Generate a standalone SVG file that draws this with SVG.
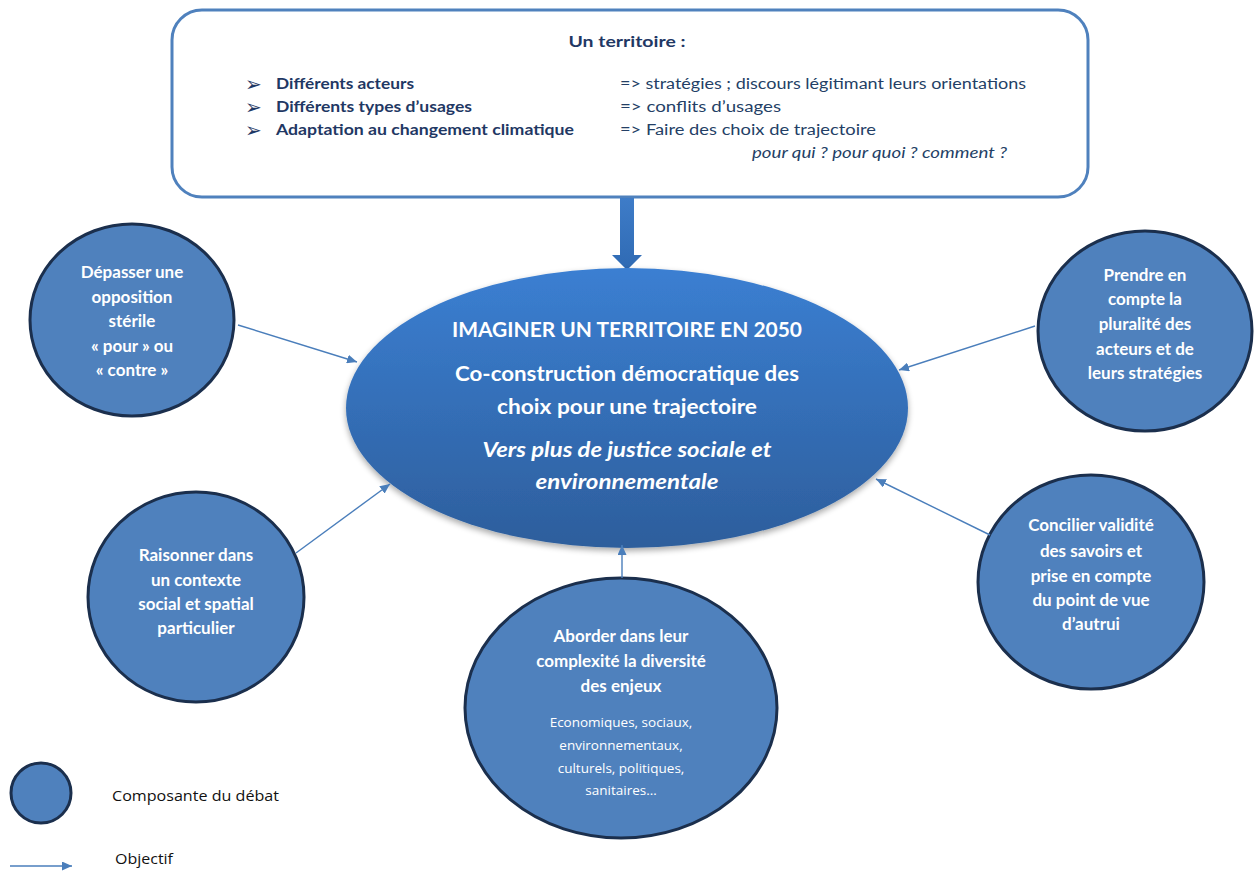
<svg xmlns="http://www.w3.org/2000/svg" width="1256" height="872" viewBox="0 0 1256 872">
<style>
.node{fill:#4f81bd;stroke:#1b2f4d;stroke-width:3}
.conn{stroke:#4a7ebb;stroke-width:1.4;fill:none}
.ct{font-family:Lato,"Liberation Sans",sans-serif;font-weight:bold;font-size:17px;fill:#ffffff;text-anchor:middle}
.cs{font-family:"Open Sans","Liberation Sans",sans-serif;font-size:13.5px;fill:#ffffff;text-anchor:middle}
.bt{font-family:Lato,"Liberation Sans",sans-serif;font-weight:bold;font-size:15.5px;fill:#1f3864}
.rt{font-family:Lato,"Liberation Sans",sans-serif;font-size:15.5px;fill:#243f66}
.mt{font-family:Lato,"Liberation Sans",sans-serif;font-weight:bold;font-size:20px;fill:#ffffff;text-anchor:middle}
.lg{font-family:"Open Sans","Liberation Sans",sans-serif;font-size:14.5px;fill:#111111}
.bu{font-family:"DejaVu Sans",sans-serif;font-size:20px;fill:#1f3864}
</style>
<defs>
<marker id="ah" markerWidth="11" markerHeight="9" refX="10" refY="4.5" orient="auto" markerUnits="userSpaceOnUse">
<path d="M0,0 L10,4.5 L0,9 Z" fill="#4a7ebb"/>
</marker>
<linearGradient id="eg" x1="0" y1="0" x2="0" y2="1">
<stop offset="0" stop-color="#3b7fd2"/>
<stop offset="1" stop-color="#2d5e9c"/>
</linearGradient>
<linearGradient id="ag" x1="0" y1="0" x2="0" y2="1">
<stop offset="0" stop-color="#3e7cc8"/>
<stop offset="1" stop-color="#2f6ab3"/>
</linearGradient>
<filter id="sh" x="-10%" y="-10%" width="120%" height="130%">
<feGaussianBlur in="SourceAlpha" stdDeviation="3"/>
<feOffset dx="0" dy="3" result="b"/>
<feComponentTransfer><feFuncA type="linear" slope="0.35"/></feComponentTransfer>
<feMerge><feMergeNode/><feMergeNode in="SourceGraphic"/></feMerge>
</filter>
</defs>
<rect width="1256" height="872" fill="#ffffff"/>

<g id="territoire">
<rect x="172" y="10" width="916" height="187" rx="30" ry="30" fill="#ffffff" stroke="#4f81bd" stroke-width="3"/>
<text class="bt" x="627" y="47" text-anchor="middle" textLength="117" lengthAdjust="spacingAndGlyphs">Un territoire :</text>
<text class="bu" x="245" y="91">➢</text>
<text class="bu" x="245" y="114">➢</text>
<text class="bu" x="245" y="137">➢</text>
<text class="bt" x="276" y="89" textLength="138" lengthAdjust="spacingAndGlyphs">Différents acteurs</text>
<text class="bt" x="276" y="112" textLength="196" lengthAdjust="spacingAndGlyphs">Différents types d’usages</text>
<text class="bt" x="276" y="135" textLength="298" lengthAdjust="spacingAndGlyphs">Adaptation au changement climatique</text>
<text class="rt" x="620" y="89" textLength="406" lengthAdjust="spacingAndGlyphs">=&gt; stratégies ; discours légitimant leurs orientations</text>
<text class="rt" x="620" y="112" textLength="161" lengthAdjust="spacingAndGlyphs">=&gt; conflits d’usages</text>
<text class="rt" x="620" y="135" textLength="256" lengthAdjust="spacingAndGlyphs">=&gt; Faire des choix de trajectoire</text>
<text class="rt" x="752" y="158" font-style="italic" fill="#2e4f8a" textLength="255" lengthAdjust="spacingAndGlyphs">pour qui ? pour quoi ? comment ?</text>
</g>

<g id="block-arrow">
<path d="M620,198 L634,198 L634,255 L642,255 L627,270 L612,255 L620,255 Z" fill="url(#ag)"/>
</g>

<g id="centre">
<ellipse cx="627" cy="408" rx="281" ry="140" fill="url(#eg)" filter="url(#sh)"/>
<text class="mt" x="627" y="337" textLength="350" lengthAdjust="spacingAndGlyphs">IMAGINER UN TERRITOIRE EN 2050</text>
<text class="mt" x="627" y="381" textLength="344" lengthAdjust="spacingAndGlyphs">Co-construction démocratique des</text>
<text class="mt" x="627" y="414" textLength="260" lengthAdjust="spacingAndGlyphs">choix pour une trajectoire</text>
<text class="mt" x="627" y="457" font-style="italic" textLength="289" lengthAdjust="spacingAndGlyphs">Vers plus de justice sociale et</text>
<text class="mt" x="627" y="489" font-style="italic" textLength="183" lengthAdjust="spacingAndGlyphs">environnementale</text>
</g>

<g id="depasser">
<ellipse class="node" cx="132" cy="320" rx="102" ry="96"/>
<text class="ct" x="132" y="278">Dépasser une</text>
<text class="ct" x="132" y="303">opposition</text>
<text class="ct" x="132" y="327">stérile</text>
<text class="ct" x="132" y="352">« pour » ou</text>
<text class="ct" x="132" y="376">« contre »</text>
</g>

<g id="prendre">
<ellipse class="node" cx="1145" cy="331" rx="107" ry="100"/>
<text class="ct" x="1145" y="281">Prendre en</text>
<text class="ct" x="1145" y="305">compte la</text>
<text class="ct" x="1145" y="330">pluralité des</text>
<text class="ct" x="1145" y="355">acteurs et de</text>
<text class="ct" x="1145" y="379">leurs stratégies</text>
</g>

<g id="raisonner">
<ellipse class="node" cx="196" cy="597" rx="108" ry="105"/>
<text class="ct" x="196" y="561">Raisonner dans</text>
<text class="ct" x="196" y="586">un contexte</text>
<text class="ct" x="196" y="610">social et spatial</text>
<text class="ct" x="196" y="634">particulier</text>
</g>

<g id="concilier">
<ellipse class="node" cx="1091" cy="582" rx="113" ry="107"/>
<text class="ct" x="1091" y="531">Concilier validité</text>
<text class="ct" x="1091" y="557">des savoirs et</text>
<text class="ct" x="1091" y="582">prise en compte</text>
<text class="ct" x="1091" y="606">du point de vue</text>
<text class="ct" x="1091" y="630">d’autrui</text>
</g>

<g id="aborder">
<ellipse class="node" cx="621" cy="708" rx="156" ry="130"/>
<text class="ct" x="621" y="642">Aborder dans leur</text>
<text class="ct" x="621" y="667">complexité la diversité</text>
<text class="ct" x="621" y="692">des enjeux</text>
<text class="cs" x="621" y="727">Economiques, sociaux,</text>
<text class="cs" x="621" y="750">environnementaux,</text>
<text class="cs" x="621" y="773">culturels, politiques,</text>
<text class="cs" x="621" y="795">sanitaires…</text>
</g>

<g id="connectors">
<line class="conn" x1="238" y1="325" x2="357" y2="362" marker-end="url(#ah)"/>
<line class="conn" x1="1035" y1="326" x2="899" y2="370" marker-end="url(#ah)"/>
<line class="conn" x1="296" y1="553" x2="390" y2="484" marker-end="url(#ah)"/>
<line class="conn" x1="990" y1="535" x2="876" y2="479" marker-end="url(#ah)"/>
<line class="conn" x1="622" y1="578" x2="622" y2="545" marker-end="url(#ah)"/>
</g>

<g id="legend">
<circle class="node" cx="41" cy="793" r="30"/>
<text class="lg" x="112" y="801" textLength="167" lengthAdjust="spacingAndGlyphs">Composante du débat</text>
<line class="conn" x1="10" y1="866" x2="72" y2="866" marker-end="url(#ah)"/>
<text class="lg" x="115" y="864" textLength="58" lengthAdjust="spacingAndGlyphs">Objectif</text>
</g>
</svg>
